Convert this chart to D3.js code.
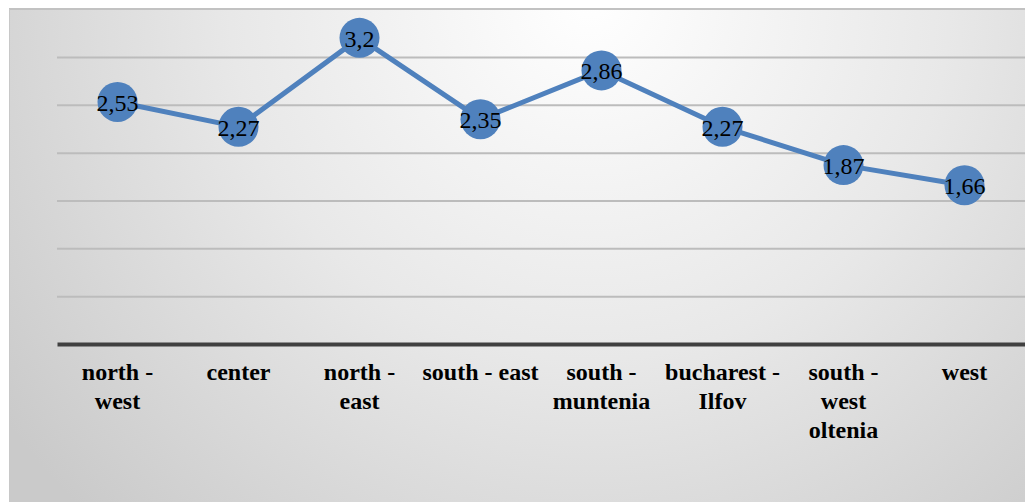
<!DOCTYPE html>
<html><head><meta charset="utf-8">
<script src="https://cdn.jsdelivr.net/npm/d3@7"></script>
<style>html,body{margin:0;padding:0;background:#fff;overflow:hidden}svg{display:block}</style>
</head><body>
<svg id="chart" width="1025" height="502"></svg>
<script>
const categories = ["north - west","center","north - east","south - east","south - muntenia","bucharest - Ilfov","south - west oltenia","west"];
const categoryLines = [["north -","west"],["center"],["north -","east"],["south - east"],["south -","muntenia"],["bucharest -","Ilfov"],["south -","west","oltenia"],["west"]];
const values = [2.53,2.27,3.2,2.35,2.86,2.27,1.87,1.66];
const valueLabels = ["2,53","2,27","3,2","2,35","2,86","2,27","1,87","1,66"];
const gridTicks = [0.5,1,1.5,2,2.5,3];

const FONT = "Liberation Serif";
const svg = d3.select("#chart");
const defs = svg.append("defs");
const rg = defs.append("radialGradient").attr("id","bg").attr("gradientUnits","userSpaceOnUse")
  .attr("cx",590).attr("cy",0).attr("r",720);
rg.append("stop").attr("offset","0").attr("stop-color","#ffffff");
rg.append("stop").attr("offset","0.5").attr("stop-color","#e8e8e8");
rg.append("stop").attr("offset","1").attr("stop-color","#cacaca");

svg.append("rect").attr("x",9).attr("y",9).attr("width",1016).attr("height",493).attr("fill","url(#bg)");
svg.append("line").attr("x1",9).attr("x2",1025).attr("y1",9).attr("y2",9).attr("stroke","#c2c2c2").attr("stroke-width",2);
svg.append("line").attr("x1",9.5).attr("x2",9.5).attr("y1",9).attr("y2",502).attr("stroke","#c8c8c8").attr("stroke-width",1);

const x = d3.scaleBand().domain(categories).range([57,1025]);
const y = d3.scaleLinear().domain([0,3]).range([344,57]);

const grid = svg.append("g").call(d3.axisLeft(y).tickValues(gridTicks).tickSize(-(1025-57)).tickFormat(""))
  .attr("transform","translate(57,0)");
grid.select(".domain").remove();
grid.selectAll(".tick line").attr("stroke","#bcbcbc").attr("stroke-width",2);

const xAxis = svg.append("g").attr("transform",`translate(0,${y(0)})`)
  .call(d3.axisBottom(x).tickSize(0).tickFormat(""));
xAxis.select(".domain").attr("stroke","#404040").attr("stroke-width",4);

categories.forEach((c,i)=>{
  const cx = x(c)+x.bandwidth()/2;
  const t = svg.append("text").attr("font-family",FONT).attr("font-weight","bold").attr("font-size",24)
    .attr("fill","#000").attr("text-anchor","middle").attr("x",cx).attr("y",380);
  categoryLines[i].forEach((ln,j)=>{
    t.append("tspan").attr("x",cx).attr("y",380+j*29).text(ln);
  });
});

const line = d3.line().x((d,i)=>x(categories[i])+x.bandwidth()/2).y(d=>y(d));
svg.append("path").datum(values).attr("d",line).attr("fill","none")
  .attr("stroke","#4f81bd").attr("stroke-width",5).attr("stroke-linejoin","round");

svg.append("g").selectAll("circle").data(values).join("circle")
  .attr("cx",(d,i)=>x(categories[i])+x.bandwidth()/2).attr("cy",d=>y(d)).attr("r",20)
  .attr("fill","#4f81bd");

values.forEach((d,i)=>{
  svg.append("text").attr("font-family",FONT).attr("font-size",24)
    .attr("text-anchor","middle").attr("fill","#000")
    .attr("x",x(categories[i])+x.bandwidth()/2).attr("y",y(d)+9)
    .text(valueLabels[i]);
});
</script>
</body></html>
